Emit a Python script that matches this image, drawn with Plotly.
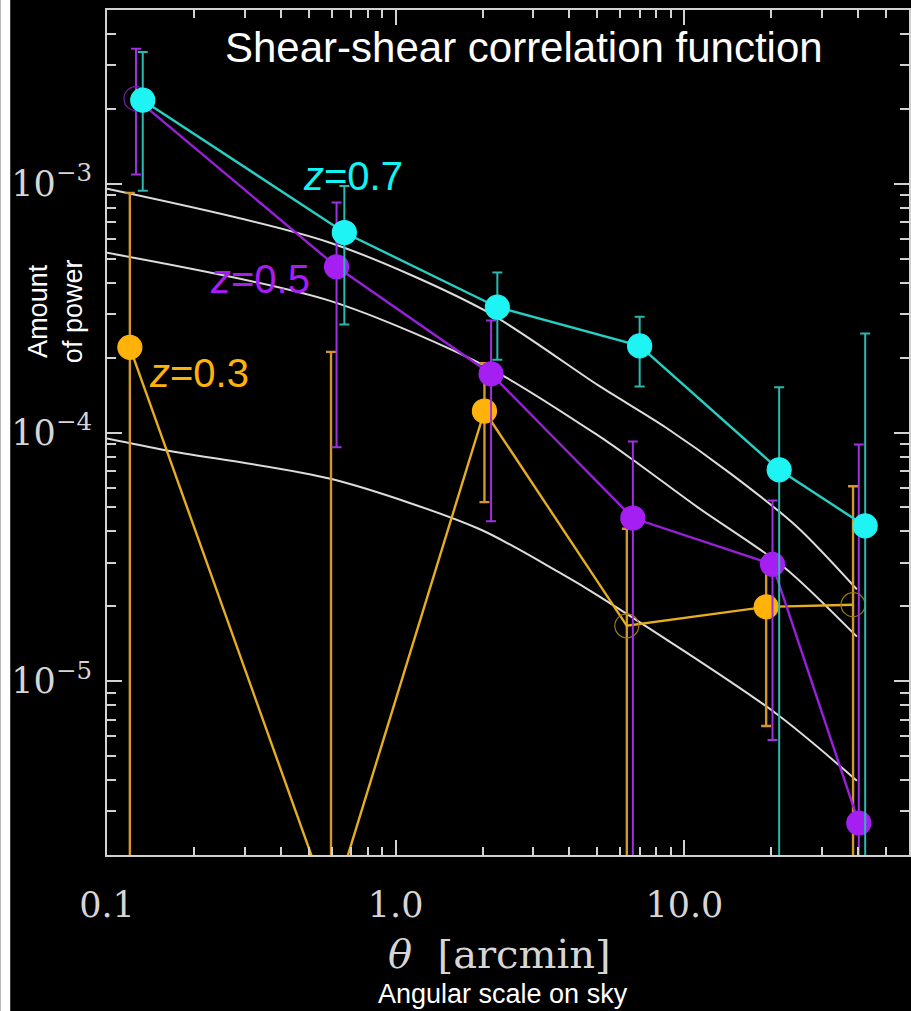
import plotly.graph_objects as go
import math

# ---------------- data ----------------
# model curves (theory), theta in arcmin
model_a_theta = [0.1, 0.589, 2.04, 5.02, 8.6, 14.5, 24.6, 39.6]
model_a_xi = [9.55e-4, 5.81e-4, 3.09e-4, 1.55e-4, 1.05e-4, 6.82e-5, 4.17e-5, 2.34e-5]
model_b_theta = [0.1, 0.589, 2.1, 5.02, 6.7, 11.1, 22.1, 39.6]
model_b_xi = [5.28e-4, 3.39e-4, 1.82e-4, 9.73e-5, 7.7e-5, 5.01e-5, 2.88e-5, 1.51e-5]
model_c_theta = [0.1, 0.161, 0.6, 1.94, 3.66, 5.02, 20.4, 39.6]
model_c_xi = [9.46e-5, 8.47e-5, 6.5e-5, 4.1e-5, 2.75e-5, 2.21e-5, 7.53e-6, 3.98e-6]

# z = 0.7 (cyan)
z07_theta = [0.133, 0.664, 2.25, 7.0, 21.3, 42.3]
z07_xi = [2.17e-3, 6.37e-4, 3.19e-4, 2.23e-4, 7.08e-5, 4.21e-5]
z07_hi = [3.39e-3, 9.8e-4, 4.4e-4, 2.92e-4, 1.52e-4, 2.5e-4]
z07_lo = [9.37e-4, 2.72e-4, 1.96e-4, 1.53e-4, -5e-5, -5e-5]
z07_open = [False, False, False, False, False, False]

# z = 0.5 (purple)
z05_theta = [0.126, 0.624, 2.14, 6.63, 20.2, 40.2]
z05_xi = [2.2e-3, 4.64e-4, 1.72e-4, 4.53e-5, 2.95e-5, 2.69e-6]
z05_hi = [3.49e-3, 8.41e-4, 2.82e-4, 9.2e-5, 5.33e-5, 8.95e-5]
z05_lo = [1.09e-3, 8.73e-5, 4.4e-5, -5e-5, 5.8e-6, -5e-5]
z05_open = [True, False, False, False, False, False]

# z = 0.3 (orange)
z03_theta = [0.120, 0.597, 2.03, 6.32, 19.2, 38.4]
z03_xi = [2.2e-4, 1.2e-6, 1.22e-4, 1.67e-5, 1.99e-5, 2.03e-5]
z03_hi = [9.2e-4, 2.11e-4, 1.9e-4, 4.1e-5, 2.9e-5, 6.08e-5]
z03_lo = [-5e-5, -5e-5, 5.25e-5, -5e-5, 6.6e-6, -5e-5]
z03_open = [False, False, False, True, False, True]

x_tickvals = [0.1, 1.0, 10.0]
x_ticktext = ["0.1", "1.0", "10.0"]
y_tickvals = [1e-5, 1e-4, 1e-3]
y_ticktext = ["10<sup>\u22125</sup>", "10<sup>\u22124</sup>", "10<sup>\u22123</sup>"]

# ---------------- figure ----------------
W, H = 911, 1011
ML, MR, MT, MB = 107, 0, 10, 156
AXC = "#d2d2d2"
SERIF = "DejaVu Serif"
SANS = "Liberation Sans, Arial, sans-serif"

fig = go.Figure()

for th, xi in [(model_a_theta, model_a_xi), (model_b_theta, model_b_xi), (model_c_theta, model_c_xi)]:
    fig.add_trace(go.Scatter(x=th, y=xi, mode="lines",
                             line=dict(color="#dcdcdc", width=2, shape="spline", smoothing=0.8),
                             hoverinfo="skip"))


def series(theta, xi, hi, lo, is_open, line_col, mark_col, open_col, err_col, err_w):
    plus = [h - v for h, v in zip(hi, xi)]
    minus = [v - l for v, l in zip(xi, lo)]
    symbols = ["circle-open" if o else "circle" for o in is_open]
    colors = [open_col if o else mark_col for o in is_open]
    fig.add_trace(go.Scatter(
        x=theta, y=xi, mode="lines+markers",
        line=dict(color=line_col, width=2.4),
        marker=dict(symbol=symbols, size=24, color=colors,
                    line=dict(color=colors, width=1.2)),
        error_y=dict(type="data", symmetric=False, array=plus, arrayminus=minus,
                     color=err_col, thickness=err_w, width=5),
        cliponaxis=True, hoverinfo="skip"))


series(z03_theta, z03_xi, z03_hi, z03_lo, z03_open,
       "#e6ae1e", "#ffb20a", "#9c7a10", "#d4962c", 2.4)
series(z05_theta, z05_xi, z05_hi, z05_lo, z05_open,
       "#9820d8", "#a51ff2", "#7a1cb0", "#a030e0", 2)
series(z07_theta, z07_xi, z07_hi, z07_lo, z07_open,
       "#26d0c4", "#1ef4f4", "#1ef4f4", "#2ab8b0", 2)

minor_x = [m * 10 ** k for k in (-1, 0) for m in range(2, 10)] + [20, 30, 40, 50]
minor_y = [m * 10 ** k for k in (-6, -5, -4) for m in range(2, 10)] + [2e-3, 3e-3, 4e-3]

axis_common = dict(showline=True, linecolor=AXC, linewidth=2, mirror="ticks",
                   ticks="inside", ticklen=15, tickwidth=2, tickcolor=AXC,
                   showgrid=False, zeroline=False,
                   tickfont=dict(family=SERIF, size=35, color="#d6d6d6"))

fig.update_xaxes(type="log", range=[-1, math.log10(60)], tickmode="array",
                 tickvals=x_tickvals, ticktext=x_ticktext, ticklabelstandoff=18,
                 minor=dict(tickmode="array", tickvals=minor_x, ticks="inside",
                            ticklen=8, tickwidth=1.5, tickcolor=AXC, showgrid=False),
                 **axis_common)
fig.update_yaxes(type="log", range=[math.log10(2e-6), math.log10(5e-3)], tickmode="array",
                 tickvals=y_tickvals, ticktext=y_ticktext, ticklabelstandoff=6,
                 minor=dict(tickmode="array", tickvals=minor_y, ticks="inside",
                            ticklen=9, tickwidth=1.5, tickcolor=AXC, showgrid=False),
                 **axis_common)

PW = W - ML - MR
PH = H - MT - MB


def px(xp):
    return (xp - ML) / PW


def py(yp):
    return (H - MB - yp) / PH


annots = [
    dict(text="Shear-shear correlation function", x=px(525), y=py(48),
         font=dict(family=SANS, size=42, color="white")),
    dict(text="<i>z</i>=0.7", x=px(354), y=py(176), font=dict(family=SANS, size=40, color="#10f4f4")),
    dict(text="<i>z</i>=0.5", x=px(260), y=py(279), font=dict(family=SANS, size=40, color="#aa1cf6")),
    dict(text="<i>z</i>=0.3", x=px(199), y=py(373), font=dict(family=SANS, size=40, color="#ffb20a")),
    dict(text="Amount<br>of power", x=px(55), y=py(311), textangle=-90,
         font=dict(family=SANS, size=27, color="white")),
    dict(text="<i>\u03b8</i>  [arcmin]", x=px(500), y=py(954),
         font=dict(family=SERIF, size=40, color="#d6d6d6")),
    dict(text="Angular scale on sky", x=px(504), y=py(994),
         font=dict(family=SANS, size=27, color="white")),
]
for a in annots:
    a.update(xref="paper", yref="paper", showarrow=False, xanchor="center", yanchor="middle")
    fig.add_annotation(**a)

# white strip on the left edge of the picture
fig.add_shape(type="rect", xref="paper", yref="paper", x0=px(0), x1=px(10), y0=py(H), y1=py(0),
              fillcolor="white", line=dict(width=0), layer="above")

fig.update_layout(width=W, height=H, margin=dict(l=ML, r=MR, t=MT, b=MB),
                  paper_bgcolor="black", plot_bgcolor="black", showlegend=False)

fig.write_html("out.html")
